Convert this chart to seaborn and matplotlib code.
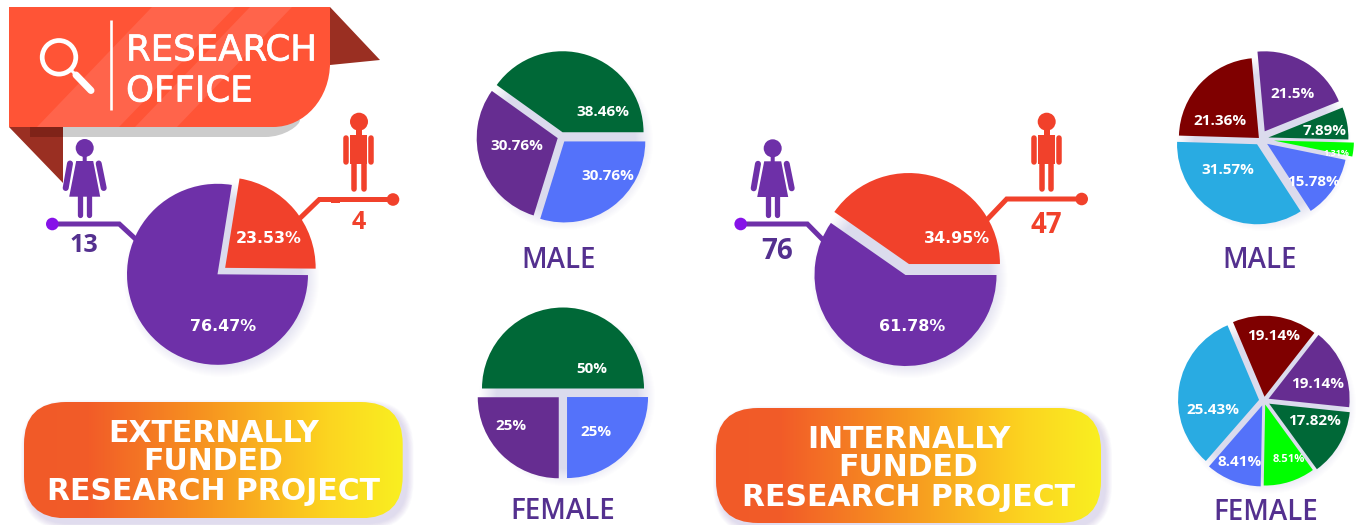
import matplotlib
matplotlib.use('Agg')

import numpy as np
import matplotlib.pyplot as plt
import matplotlib.patheffects as pe
import seaborn as sns
from matplotlib.colors import LinearSegmentedColormap
from matplotlib.patches import Circle, FancyBboxPatch, PathPatch, Polygon, Rectangle
from matplotlib.path import Path

sns.set_theme(style='white')

W, H = 1370, 525

PURPLE = '#6e30a8'
RED = '#f1412b'
DOT = '#8612e8'
TITLE = '#54308f'
GREEN = '#006837'
VIOLET = '#662d91'
BLUE = '#5472fa'
CYAN = '#29abe2'
MAROON = '#7f0000'
LIME = '#00ff00'

ext_shares = [22.6, 77.4]
ext_labels = ['23.53%', '76.47%']
ext_counts = ['4', '13']

int_shares = [40.3, 59.7]
int_labels = ['34.95%', '61.78%']
int_counts = ['47', '76']

ext_male_shares = [40.1, 30.1, 29.8]
ext_male_labels = ['38.46%', '30.76%', '30.76%']

ext_female_shares = [50, 25, 25]
ext_female_labels = ['50%', '25%', '25%']

int_male_shares = [20.3, 23.05, 34.6, 12.6, 2.8, 6.5]
int_male_labels = ['21.5%', '21.36%', '31.57%', '15.78%', '1.31%', '7.89%']

int_female_shares = [16.9, 32.2, 11.1, 10.3, 13.3, 16.1]
int_female_labels = ['19.14%', '25.43%', '8.41%', '8.51%', '17.82%', '19.14%']


def Y(y):
    return H - y


def soft_shadow(ax, cx, cy, r):
    for i in range(18):
        ax.add_patch(Circle((cx + 4, Y(cy + 5)), r + 7 - i, fc='#7f6cc8', ec='none', alpha=0.012))


def draw_pie(ax, center, r, shares, colors, explode, start, labels, label_pos, sizes=None, font='Open Sans'):
    soft_shadow(ax, center[0], center[1], r)
    ax.pie(shares, colors=colors, explode=explode, startangle=start, radius=r,
           center=(center[0], Y(center[1])), frame=True, wedgeprops={'linewidth': 0})
    sizes = sizes or [11] * len(labels)
    for lab, (x, y), s in zip(labels, label_pos, sizes):
        ax.text(x, Y(y), lab, color='white', fontsize=s, fontweight='bold', family=font,
                ha='center', va='center_baseline', zorder=5)


def rounded(ax, xs, ys, px, color, cap='round', z=3):
    ax.plot(xs, [Y(v) for v in ys], color=color, lw=px * 0.72, solid_capstyle=cap,
            solid_joinstyle='miter', zorder=z)


def woman(ax, cx, cy):
    ax.add_patch(Circle((cx, Y(cy)), 9, fc=PURPLE, ec='none', zorder=3))
    ax.add_patch(Polygon([(cx - 2, Y(cy + 7)), (cx + 2, Y(cy + 7)), (cx + 2, Y(cy + 13)), (cx + 8.5, Y(cy + 13)),
                          (cx + 15.5, Y(cy + 48.7)), (cx - 15.5, Y(cy + 48.7)), (cx - 8.5, Y(cy + 13)),
                          (cx - 2, Y(cy + 13))], fc=PURPLE, ec='none', zorder=3))
    rounded(ax, [cx - 14.7, cx - 19], [cy + 15.5, cy + 40], 6, PURPLE)
    rounded(ax, [cx + 14, cx + 19], [cy + 15.5, cy + 40], 6, PURPLE)
    rounded(ax, [cx - 4.6, cx - 4.6], [cy + 48, cy + 67], 5.3, PURPLE)
    rounded(ax, [cx + 4.6, cx + 4.6], [cy + 48, cy + 67], 5.3, PURPLE)


def man(ax, cx, cy):
    ax.add_patch(Circle((cx, Y(cy)), 9, fc=RED, ec='none', zorder=3))
    ax.add_patch(Rectangle((cx - 3, Y(cy + 14)), 6, 8, fc=RED, ec='none', zorder=3))
    ax.add_patch(Rectangle((cx - 8.5, Y(cy + 42)), 17, 29, fc=RED, ec='none', zorder=3))
    rounded(ax, [cx - 12.5, cx - 12.5], [cy + 16, cy + 40], 5.5, RED)
    rounded(ax, [cx + 12.5, cx + 12.5], [cy + 16, cy + 40], 5.5, RED)
    rounded(ax, [cx - 4.8, cx - 4.8], [cy + 40, cy + 67], 5.5, RED)
    rounded(ax, [cx + 4.8, cx + 4.8], [cy + 40, cy + 67], 5.5, RED)


def leader(ax, pts, color, dot):
    # the first point sits inside the pie, the wedge covers it
    rounded(ax, [p[0] for p in pts], [p[1] for p in pts], 5, color, cap='butt', z=0.5)
    ax.add_patch(Circle((pts[-1][0], Y(pts[-1][1])), 6.3, fc=dot, ec='none', zorder=4))


def gradient_box(ax, x0, y0, x1, y1, lines):
    for i in range(10):
        pad = (10 - i) * 0.7
        ax.add_patch(FancyBboxPatch((x0 + 4 - pad, Y(y1 + 5 + pad)), x1 - x0 + pad * 2, y1 - y0 + pad * 2,
                                    boxstyle='round,pad=0,rounding_size=%.1f' % (42 + pad),
                                    fc='#7f6cc8', ec='none', alpha=0.025))
    box = FancyBboxPatch((x0, Y(y1)), x1 - x0, y1 - y0, boxstyle='round,pad=0,rounding_size=42',
                         fc='none', ec='none', zorder=2)
    ax.add_patch(box)
    cmap = LinearSegmentedColormap.from_list('box', [(0, '#f15a29'), (0.17, '#f25c28'), (0.5, '#f7981f'), (0.8, '#fcd420'), (1, '#f9ef20')])
    im = ax.imshow(np.linspace(0, 1, 256).reshape(1, -1), cmap=cmap, extent=(x0, x1, Y(y1), Y(y0)),
                   aspect='auto', zorder=2)
    im.set_clip_path(box)
    for text, y in lines:
        ax.text((x0 + x1) / 2, Y(y), text, color='white', fontsize=21.5, fontweight='bold',
                family='DejaVu Sans', ha='center', va='center_baseline', zorder=5)


def header(ax):
    # ribbon ends
    ax.add_patch(Polygon([(330, Y(7)), (380, Y(60)), (330, Y(65))], fc='#9a2f22', ec='none'))
    # grey fold under the banner
    grey = Path([(30, Y(127)), (30, Y(137)), (265, Y(137)), (285, Y(137)), (300, Y(125)), (300, Y(120)), (30, Y(120))],
                [Path.MOVETO, Path.LINETO, Path.LINETO, Path.CURVE4, Path.CURVE4, Path.CURVE4, Path.LINETO])
    ax.add_patch(PathPatch(grey, fc='#cccccc', ec='none'))
    ax.add_patch(Polygon([(9, Y(127)), (63, Y(183)), (63, Y(127))], fc='#9a2f22', ec='none'))
    ax.add_patch(Rectangle((30, Y(137)), 33, 10, fc='#7f2318', ec='none'))
    body = Path([(9, Y(7)), (330, Y(7)), (330, Y(63)), (330, Y(98)), (305, Y(127)), (273, Y(127)), (9, Y(127)), (9, Y(7))],
                [Path.MOVETO, Path.LINETO, Path.LINETO, Path.CURVE4, Path.CURVE4, Path.CURVE4, Path.LINETO, Path.CLOSEPOLY])
    patch = PathPatch(body, fc='#ff5436', ec='none', zorder=2)
    ax.add_patch(patch)
    for band in ([(37, 127), (119, 127), (235, 7), (152, 7)], [(135, 127), (177, 127), (292, 7), (250, 7)]):
        p = Polygon([(x, Y(y)) for x, y in band], fc='#ff644b', ec='none', zorder=2)
        ax.add_patch(p)
        p.set_clip_path(patch)
    # magnifier
    ax.add_patch(Circle((59, Y(57.3)), 16.8, fc='none', ec='white', lw=3.4, zorder=4))
    rounded(ax, [71, 76], [70, 75], 3, 'white')
    rounded(ax, [76, 91], [75, 90.5], 7, 'white')
    rounded(ax, [111, 111], [20, 110], 2.6, 'white', cap='butt')
    for text, y in [('RESEARCH', 47), ('OFFICE', 88)]:
        ax.text(126, Y(y), text, color='white', fontsize=25.6, family='DejaVu Sans', ha='left',
                va='center_baseline', zorder=5,
                path_effects=[pe.withStroke(linewidth=0.5, foreground='white')])


fig = plt.figure(figsize=(W / 100, H / 100), dpi=100, facecolor='white')
ax = fig.add_axes([0, 0, 1, 1])

# people and leaders
leader(ax, [(293, 225), (319.3, 199.5), (393, 199.5)], RED, RED)
ax.add_patch(Rectangle((331, Y(202.7)), 9, 5.7, fc=RED, ec='none', zorder=3))
leader(ax, [(142, 245), (119.3, 224), (52.3, 224)], PURPLE, DOT)
leader(ax, [(980, 227), (1006.7, 199), (1081.7, 199)], RED, RED)
leader(ax, [(830, 247), (807.3, 224), (740.7, 224)], PURPLE, DOT)

# main pies
draw_pie(ax, (217.5, 274.3), 90.5, ext_shares, [RED, PURPLE], [10, 0], -0.5, ext_labels,
         [(269, 237.3), (223.3, 325)], sizes=[11.4, 11.4], font='DejaVu Sans')
draw_pie(ax, (905.5, 275), 91, int_shares, [RED, PURPLE], [11.5, 0], 0, int_labels,
         [(956.7, 236.7), (912, 325)], sizes=[11.4, 11.4], font='DejaVu Sans')

# gender breakdown pies
draw_pie(ax, (561, 137), 81, ext_male_shares, [GREEN, VIOLET, BLUE], [5, 3.5, 5.5], 0, ext_male_labels,
         [(603.3, 110), (516.7, 145), (607.7, 174)])
draw_pie(ax, (563, 393), 81, ext_female_shares, [GREEN, VIOLET, BLUE], [4.5, 6, 5.7], 0, ext_female_labels,
         [(592.3, 367.3), (510.7, 425), (596, 431)])
draw_pie(ax, (1260, 139), 80, int_male_shares, [VIOLET, MAROON, CYAN, BLUE, LIME, GREEN], [9, 1.5, 6, 8.6, 14, 8.5], 22,
         int_male_labels, [(1292.7, 92.3), (1220, 119.3), (1228, 169), (1313.3, 180), (1336.7, 152.3), (1324.3, 129.3)],
         sizes=[11, 11, 11, 11, 6.5, 11])
draw_pie(ax, (1264, 400.7), 81, int_female_shares, [MAROON, CYAN, BLUE, LIME, GREEN, VIOLET], [4, 5, 5, 4, 6, 5], 52,
         int_female_labels, [(1274, 334.3), (1212.7, 409), (1239.3, 460), (1289.3, 458.3), (1315, 419.3), (1317.3, 382.3)],
         sizes=[11, 11, 11, 8, 11, 11])

woman(ax, 84.7, 148)
man(ax, 359, 121.7)
woman(ax, 772.7, 148.3)
man(ax, 1046.7, 121.7)

ax.text(358.3, Y(219.3), ext_counts[0], color=RED, fontsize=18, fontweight='bold', family='Open Sans',
        ha='center', va='center_baseline')
ax.text(84, Y(243), ext_counts[1], color=TITLE, fontsize=18, fontweight='bold', family='Open Sans',
        ha='center', va='center_baseline')
ax.text(1046.7, Y(221.7), int_counts[0], color=RED, fontsize=20, fontweight='bold', family='Open Sans',
        ha='center', va='center_baseline')
ax.text(776.7, Y(248.3), int_counts[1], color=TITLE, fontsize=20, fontweight='bold', family='Open Sans',
        ha='center', va='center_baseline')

# pie titles
for text, x, y in [('MALE', 558.3, 256.7), ('FEMALE', 562.7, 508), ('MALE', 1259.7, 257.5), ('FEMALE', 1265.3, 509)]:
    ax.text(x, Y(y), text, color=TITLE, fontsize=20, fontweight='semibold', family='Open Sans',
            ha='center', va='center_baseline')

gradient_box(ax, 24, 402, 402.7, 518.3, [('EXTERNALLY', 430), ('FUNDED', 458), ('RESEARCH PROJECT', 488.3)])
gradient_box(ax, 716, 408, 1101, 523, [('INTERNALLY', 436.5), ('FUNDED', 465), ('RESEARCH PROJECT', 494.5)])

header(ax)

ax.set_xlim(0, W)
ax.set_ylim(0, H)
ax.axis('off')
fig.savefig('out.png', dpi=100)
plt.close()
